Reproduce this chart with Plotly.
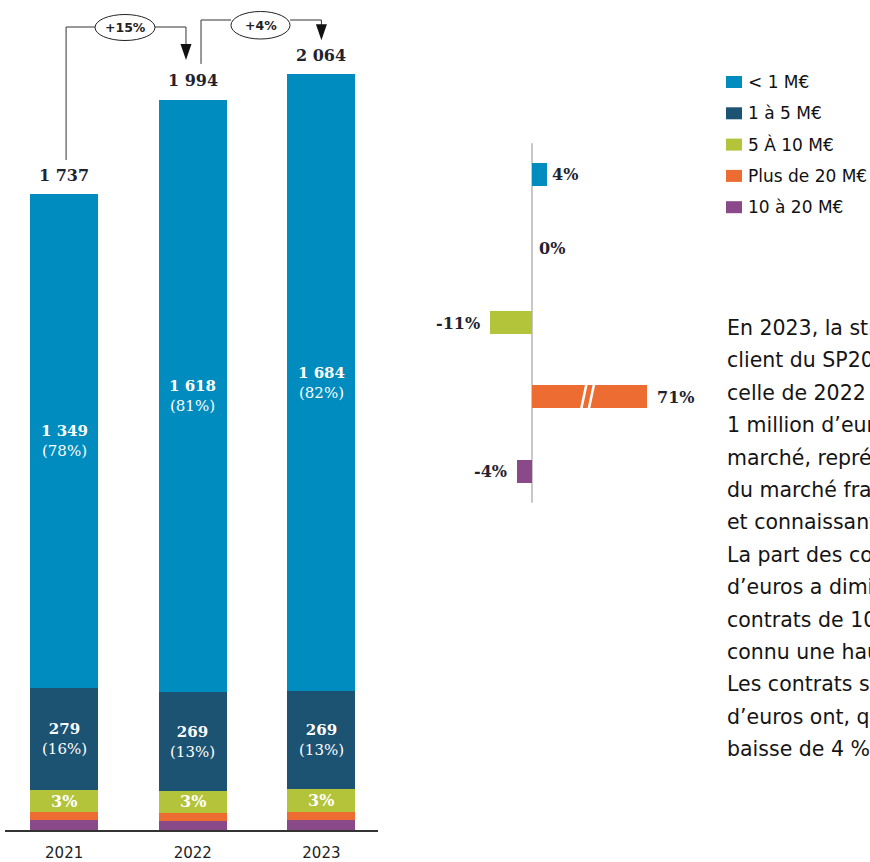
import plotly.graph_objects as go

# ---- data -------------------------------------------------------------
years = ["2021", "2022", "2023"]
totals = [1737, 1994, 2064]

lt1 = [1349, 1618, 1684]            # < 1 M€
lt1_share = ["78%", "81%", "82%"]
m1_5 = [279, 269, 269]              # 1 à 5 M€
m1_5_share = ["16%", "13%", "13%"]
m5_10 = [60, 60, 62]                # 5 à 10 M€
m5_10_share = ["3%", "3%", "3%"]
m20p = [22, 22, 23]                 # plus de 20 M€
m10_20 = [27, 25, 26]               # 10 à 20 M€

growth_labels = ["+15%", "+4%"]

seg_names = ["< 1 M€", "1 à 5 M€", "5 À 10 M€", "Plus de 20 M€", "10 à 20 M€"]
seg_colors = ["#008cbe", "#1c5272", "#b3c33a", "#ed6c32", "#8a4988"]
change_pct = [4, 0, -11, 71, -4]     # évolution 2022 -> 2023

body_lines = [
    "En 2023, la structure du portefeuille",
    "client du SP20 est comparable à",
    "celle de 2022 : les contrats de moins de",
    "1 million d’euros dominent toujours le",
    "marché, représentant 82 % des mandats",
    "du marché français de l’audit",
    "et connaissant une hausse de 4 %.",
    "La part des contrats de 5 à 10 millions",
    "d’euros a diminué de 11 %, tandis que les",
    "contrats de 10 à 20 millions d’euros ont",
    "connu une hausse de 71 %.",
    "Les contrats supérieurs à 20 millions",
    "d’euros ont, quant à eux, enregistré une",
    "baisse de 4 %.",
]

# ---- geometry helpers -------------------------------------------------
W, H = 870, 862
Y_MAX = 2267
PLOT_BOTTOM = 32                      # px from bottom of figure
PX_PER_UNIT = (H - PLOT_BOTTOM) / Y_MAX


def dy(px):
    """pixel distance -> value units on the left y axis"""
    return px / PX_PER_UNIT


def ydata(px_from_top):
    return (H - PLOT_BOTTOM - px_from_top) / PX_PER_UNIT


def fmt(v):
    return f"{v:,}".replace(",", " ")


SERIF = "DejaVu Serif"
SANS = "DejaVu Sans"
INK = "#1f2330"

fig = go.Figure()

# ---- stacked bars (bottom -> top) ------------------------------------
stack = [
    (m10_20, seg_names[4], seg_colors[4]),
    (m20p, seg_names[3], seg_colors[3]),
    (m5_10, seg_names[2], seg_colors[2]),
    (m1_5, seg_names[1], seg_colors[1]),
    (lt1, seg_names[0], seg_colors[0]),
]
for vals, name, col in stack:
    fig.add_trace(go.Bar(
        x=years, y=vals, name=name, marker=dict(color=col, line=dict(width=0)),
        width=0.53, xaxis="x", yaxis="y", showlegend=False, hoverinfo="skip",
    ))

annotations = []
base_green = [a + b for a, b in zip(m10_20, m20p)]
base_navy = [a + b for a, b in zip(base_green, m5_10)]
base_blue = [a + b for a, b in zip(base_navy, m1_5)]

for i, yr in enumerate(years):
    # totals above bars
    annotations.append(dict(
        x=i, y=totals[i], xref="x", yref="y", yshift=19, showarrow=False,
        text=f"<b>{fmt(totals[i])}</b>", font=dict(family=SERIF, size=16, color=INK),
    ))
    # < 1 M€
    annotations.append(dict(
        x=i, y=base_blue[i] + lt1[i] / 2, xref="x", yref="y", showarrow=False,
        text=f"<b>{fmt(lt1[i])}</b><br>({lt1_share[i]})",
        font=dict(family=SERIF, size=15, color="white"),
    ))
    # 1 à 5 M€
    annotations.append(dict(
        x=i, y=base_navy[i] + m1_5[i] / 2, xref="x", yref="y", showarrow=False,
        text=f"<b>{fmt(m1_5[i])}</b><br>({m1_5_share[i]})",
        font=dict(family=SERIF, size=15, color="white"),
    ))
    # 5 à 10 M€
    annotations.append(dict(
        x=i, y=base_green[i] + m5_10[i] / 2, xref="x", yref="y", showarrow=False,
        text=f"<b>{m5_10_share[i]}</b>",
        font=dict(family=SERIF, size=16, color="white"),
    ))

# ---- growth connectors between totals ---------------------------------
shapes = []
LINE = dict(color="#333333", width=1)


def connector(x_start, y_start, x_end, y_tip, y_top, ell_x0, ell_x1, ell_y0, ell_y1, label):
    shapes.append(dict(type="line", xref="x", yref="y", x0=x_start, x1=x_start,
                       y0=y_start, y1=y_top, line=LINE))
    shapes.append(dict(type="line", xref="x", yref="y", x0=x_start, x1=ell_x0,
                       y0=y_top, y1=y_top, line=LINE))
    shapes.append(dict(type="line", xref="x", yref="y", x0=ell_x1, x1=x_end,
                       y0=y_top, y1=y_top, line=LINE))
    shapes.append(dict(type="line", xref="x", yref="y", x0=x_end, x1=x_end,
                       y0=y_top, y1=y_tip + dy(10), line=LINE))
    shapes.append(dict(type="circle", xref="x", yref="y", x0=ell_x0, x1=ell_x1,
                       y0=ell_y0, y1=ell_y1, line=dict(color="#222222", width=1),
                       fillcolor="white"))
    # arrowhead
    shapes.append(dict(type="path", xref="x", yref="y", xsizemode="pixel",
                       ysizemode="pixel", xanchor=x_end, yanchor=y_tip,
                       path="M-5.5,16 L5.5,16 L0,0 Z", fillcolor="#111111",
                       line=dict(width=0)))
    annotations.append(dict(
        x=(ell_x0 + ell_x1) / 2, y=(ell_y0 + ell_y1) / 2, xref="x", yref="y",
        showarrow=False, text=f"<b>{label}</b>",
        font=dict(family=SANS, size=12.5, color="#222222"),
    ))


connector(0.015, totals[0] + dy(34), 0.947, totals[1] + dy(40), ydata(27),
          0.24, 0.706, ydata(40.5), ydata(14.5), growth_labels[0])
connector(1.064, totals[1] + dy(36), 2.0, totals[2] + dy(34), ydata(20),
          1.297, 1.756, ydata(39), ydata(11.5), growth_labels[1])

# ---- change chart (horizontal bars) -----------------------------------
X2_MIN, X2_MAX = -29.47, 30.26
fig.add_trace(go.Bar(
    x=change_pct, y=seg_names, orientation="h", width=0.31,
    marker=dict(color=seg_colors, line=dict(width=0)),
    xaxis="x2", yaxis="y2", showlegend=False, hoverinfo="skip",
))

# zero line
shapes.append(dict(type="line", xref="x2", yref="y2", x0=0, x1=0, y0=-0.42, y1=4.42,
                   line=dict(color="#c8c8c8", width=2), layer="below"))

LBL = dict(family=SERIF, size=16, color=INK)
for name, v in zip(seg_names, change_pct):
    if v > X2_MAX:
        # axis break: bar is cut at the right edge, value written after it
        annotations.append(dict(x=X2_MAX, y=name, xref="x2", yref="y2", xanchor="left",
                                xshift=8, showarrow=False, text=f"<b>{v}%</b>", font=LBL))
        brk = 13.0
        for off in (0.0, 2.0):
            shapes.append(dict(type="line", xref="x2", yref="y2",
                               x0=brk + off - 0.1, x1=brk + off + 1.3,
                               y0=seg_names.index(name) + 0.17,
                               y1=seg_names.index(name) - 0.17,
                               line=dict(color="white", width=2.5)))
    elif v < 0:
        annotations.append(dict(x=v, y=name, xref="x2", yref="y2", xanchor="right",
                                xshift=-8, showarrow=False, text=f"<b>{v}%</b>", font=LBL))
    else:
        annotations.append(dict(x=v, y=name, xref="x2", yref="y2", xanchor="left",
                                xshift=3 if v else 5, showarrow=False, text=f"<b>{v}%</b>",
                                font=LBL))

# ---- legend ------------------------------------------------------------
LEG_X, LEG_Y0, LEG_STEP = 726, 82, 31.3
for k, (name, col) in enumerate(zip(seg_names, seg_colors)):
    yc = LEG_Y0 + k * LEG_STEP
    shapes.append(dict(type="rect", xref="paper", yref="paper",
                       x0=LEG_X / W, x1=(LEG_X + 16) / W,
                       y0=1 - (yc + 6) / H, y1=1 - (yc - 6) / H,
                       fillcolor=col, line=dict(width=0)))
    annotations.append(dict(x=(LEG_X + 20) / W, y=1 - yc / H, xref="paper", yref="paper",
                            xanchor="left", yanchor="middle", showarrow=False, text=name,
                            font=dict(family=SANS, size=17, color="#111111")))

# ---- commentary --------------------------------------------------------
TXT_X, TXT_Y0, TXT_STEP = 725, 328, 32.4
for k, line in enumerate(body_lines):
    annotations.append(dict(x=TXT_X / W, y=1 - (TXT_Y0 + k * TXT_STEP) / H,
                            xref="paper", yref="paper", xanchor="left", yanchor="middle",
                            showarrow=False, text=line,
                            font=dict(family=SANS, size=20.5, color="#151515")))

fig.update_layout(
    width=W, height=H, margin=dict(l=0, r=0, t=0, b=0),
    paper_bgcolor="white", plot_bgcolor="white",
    barmode="stack", bargap=0,
    xaxis=dict(domain=[5 / W, 378 / W], type="category", range=[-0.46, 2.44],
               showline=True, linecolor="#333333", linewidth=1.5, layer="below traces",
               showgrid=False, zeroline=False, ticks="", ticklabelstandoff=8,
               tickfont=dict(family=SANS, size=15, color="#222222"),
               fixedrange=True, anchor="y"),
    yaxis=dict(domain=[PLOT_BOTTOM / H, 1], range=[0, Y_MAX], visible=False,
               fixedrange=True, anchor="x"),
    xaxis2=dict(domain=[420 / W, 647 / W], range=[X2_MIN, X2_MAX], visible=False,
                fixedrange=True, anchor="y2"),
    yaxis2=dict(domain=[1 - 508.6 / H, 1 - 137.4 / H], type="category",
                categoryorder="array", categoryarray=seg_names,
                range=[4.5, -0.5], visible=False, fixedrange=True, anchor="x2"),
    shapes=shapes, annotations=annotations, showlegend=False,
)

fig.write_html("out.html")
